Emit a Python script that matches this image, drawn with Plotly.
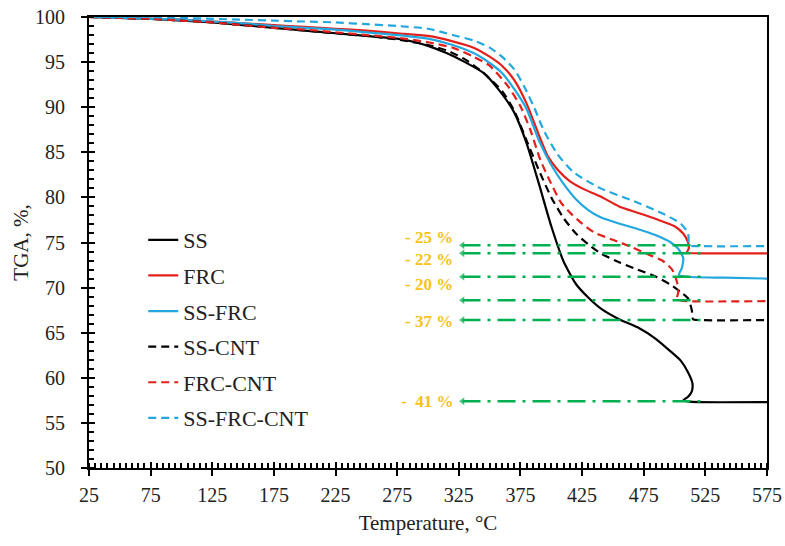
import plotly.graph_objects as go

# ---------------- data ----------------
temp_ss = [25, 50, 75, 100, 125, 150, 175, 200, 225, 250, 275, 290, 300, 315, 330, 345, 357, 370, 380,
           390, 400, 410, 420, 430, 440, 455, 470, 485, 497, 505, 511, 514.5, 514, 511, 507, 512, 520, 575]
tga_ss = [100, 99.9, 99.8, 99.6, 99.4, 99.1, 98.8, 98.5, 98.2, 97.9, 97.6, 97.2, 96.8, 96.0, 95.0, 93.8, 92.0, 89.4, 86.0,
          81.5, 76.8, 72.9, 70.4, 68.9, 67.7, 66.5, 65.6, 64.3, 62.9, 61.9, 60.6, 59.4, 58.5, 57.9, 57.5, 57.35, 57.3, 57.3]

temp_frc = [25, 50, 75, 100, 125, 150, 175, 200, 225, 250, 275, 300, 320, 337, 350, 360, 370, 380, 390, 397,
            405, 415, 425, 440, 455, 470, 485, 500, 507, 511, 511.5, 510, 520, 575]
tga_frc = [100, 99.9, 99.8, 99.7, 99.5, 99.3, 99.1, 98.9, 98.7, 98.5, 98.2, 97.9, 97.3, 96.6, 95.6, 94.6, 93.0, 90.4, 86.9, 84.6,
           83.1, 81.8, 81.0, 80.1, 79.0, 78.3, 77.6, 76.8, 76.0, 75.0, 74.3, 73.9, 73.8, 73.8]

temp_ss_frc = [25, 50, 75, 100, 125, 150, 175, 200, 225, 250, 275, 300, 320, 337, 350, 360, 370, 380, 390, 400,
               410, 420, 430, 440, 455, 470, 485, 497, 503, 507, 506, 503.5, 510, 540, 575]
tga_ss_frc = [100, 99.9, 99.8, 99.7, 99.5, 99.3, 99.0, 98.8, 98.6, 98.3, 98.0, 97.6, 96.9, 96.0, 94.9, 93.8, 92.0, 89.8, 86.3, 83.6,
              81.5, 79.8, 78.6, 77.8, 77.1, 76.5, 75.8, 75.0, 74.3, 73.3, 72.2, 71.4, 71.2, 71.1, 71.0]

temp_ss_cnt = [25, 50, 75, 100, 125, 150, 175, 200, 225, 250, 275, 300, 315, 330, 345, 360, 370, 380, 390, 400,
               410, 420, 430, 440, 455, 470, 485, 497, 505, 511, 514, 515, 520, 575]
tga_ss_cnt = [100, 99.9, 99.8, 99.6, 99.4, 99.1, 98.8, 98.5, 98.2, 97.9, 97.5, 96.9, 96.3, 95.3, 93.8, 91.8, 89.6, 86.3, 83.0, 80.0,
              77.7, 76.0, 74.8, 73.8, 72.8, 72.0, 71.2, 70.3, 69.5, 68.8, 67.5, 66.5, 66.4, 66.4]

temp_frc_cnt = [25, 50, 75, 100, 125, 150, 175, 200, 225, 250, 275, 300, 320, 337, 350, 365, 375, 383, 391, 400,
                408, 416, 425, 435, 450, 465, 480, 490, 498, 502, 503, 502, 510, 575]
tga_frc_cnt = [100, 99.9, 99.8, 99.6, 99.4, 99.1, 98.8, 98.6, 98.3, 98.0, 97.7, 97.2, 96.6, 95.6, 94.6, 92.3, 90.1, 87.5, 84.2, 81.5,
               79.4, 78.2, 77.1, 76.1, 75.3, 74.5, 73.6, 73.0, 72.0, 70.6, 69.5, 68.7, 68.5, 68.5]

temp_ss_frc_cnt = [25, 50, 75, 100, 125, 150, 175, 200, 225, 250, 275, 300, 320, 337, 350, 360, 370, 378, 386, 394,
                   405, 418, 440, 465, 489, 505, 511, 512, 520, 575]
tga_ss_frc_cnt = [100, 100, 100, 99.9, 99.8, 99.7, 99.6, 99.5, 99.4, 99.2, 99.0, 98.7, 98.0, 97.4, 96.6, 95.6, 94.2, 92.3, 90.0, 87.4,
                  84.8, 82.8, 81.0, 79.7, 78.3, 77.1, 76.0, 74.7, 74.6, 74.6]

series_names = ["SS", "FRC", "SS-FRC", "SS-CNT", "FRC-CNT", "SS-FRC-CNT"]
series_temps = [temp_ss, temp_frc, temp_ss_frc, temp_ss_cnt, temp_frc_cnt, temp_ss_frc_cnt]
series_tgas = [tga_ss, tga_frc, tga_ss_frc, tga_ss_cnt, tga_frc_cnt, tga_ss_frc_cnt]

# residual-mass reference arrows
arrow_levels = [74.7, 73.8, 71.2, 68.6, 66.4, 57.4]
arrow_start = 328
arrow_end = 523

# mass-loss labels
loss_labels = ["- 25 %", "- 22 %", "- 20 %", "- 37 %", "-  41 %"]
loss_label_levels = [75.6, 73.1, 70.3, 66.2, 57.4]
loss_label_x = 322

# ---------------- styles ----------------
colors = ["#000000", "#E3201B", "#22A7DF", "#000000", "#E3201B", "#22A7DF"]
dashes = ["solid", "solid", "solid", "8px,5px", "8px,5px", "8px,5px"]
GREEN = "#00B050"
GOLD = "#F7C21A"
FONT = "Liberation Serif"

fig = go.Figure()

for i, (name, t, v) in enumerate(zip(series_names, series_temps, series_tgas)):
    fig.add_trace(go.Scatter(
        x=t, y=v, name=name, mode="lines",
        line=dict(color=colors[i], width=2.2, dash=dashes[i], shape="spline", smoothing=0.6),
        legendgroup=name,
    ))

for lvl in arrow_levels:
    fig.add_trace(go.Scatter(
        x=[arrow_start, arrow_end], y=[lvl, lvl], mode="lines+markers",
        line=dict(color=GREEN, width=2.5, dash="18px,7px,3px,7px"),
        marker=dict(symbol=["triangle-left", "circle"], size=[7, 0], color=GREEN, line=dict(width=0)),
        showlegend=False, hoverinfo="skip", xaxis="x2", yaxis="y2",
    ))

for lab, lvl in zip(loss_labels, loss_label_levels):
    fig.add_annotation(x=loss_label_x, y=lvl, text=lab, showarrow=False, xanchor="right",
                       yanchor="middle", font=dict(family=FONT, size=17, color=GOLD, weight="bold"))

axis_common = dict(showgrid=False, zeroline=False, showline=True, linecolor="black", linewidth=2,
                   mirror=True, ticks="outside", ticklen=6, tickwidth=2, tickcolor="black",
                   automargin=False, tickfont=dict(family=FONT, size=20, color="#222"))

fig.update_layout(
    width=785, height=546,
    margin=dict(l=89, r=18, t=17, b=78),
    plot_bgcolor="white", paper_bgcolor="white",
    font=dict(family=FONT, color="#222"),
    xaxis=dict(range=[25, 575], tickmode="linear", tick0=25, dtick=50,
               minor=dict(tick0=25, dtick=5, ticks="inside", ticklen=5, tickwidth=1.5, tickcolor="black"),
               title=dict(text="Temperature, °C", font=dict(family=FONT, size=21, color="#222"), standoff=10),
               ticklabelstandoff=2, **axis_common),
    yaxis=dict(range=[50, 100], tickmode="linear", tick0=50, dtick=5,
               minor=dict(tick0=50, dtick=1, ticks="inside", ticklen=5, tickwidth=1.5, tickcolor="black"),
               title=dict(text="TGA, %,", font=dict(family=FONT, size=21, color="#222"), standoff=1),
               ticklabelstandoff=12, **axis_common),
    xaxis2=dict(range=[25, 575], overlaying="x", anchor="y2", tickmode="linear", tick0=25, dtick=50,
                ticks="inside", ticklen=6, tickwidth=2, tickcolor="black", showticklabels=False,
                showgrid=False, zeroline=False, showline=False),
    yaxis2=dict(range=[50, 100], overlaying="y", anchor="x2", tickmode="linear", tick0=50, dtick=5,
                ticks="inside", ticklen=6, tickwidth=2, tickcolor="black", showticklabels=False,
                showgrid=False, zeroline=False, showline=False),
    legend=dict(x=0.080, y=0.552, xanchor="left", yanchor="top", bgcolor="rgba(0,0,0,0)",
                font=dict(family=FONT, size=22, color="#222"), traceorder="grouped", tracegroupgap=4),
)

fig.write_html("out.html", config={"displayModeBar": False},
               post_script="document.body.style.margin='0';document.body.style.overflow='hidden';")
